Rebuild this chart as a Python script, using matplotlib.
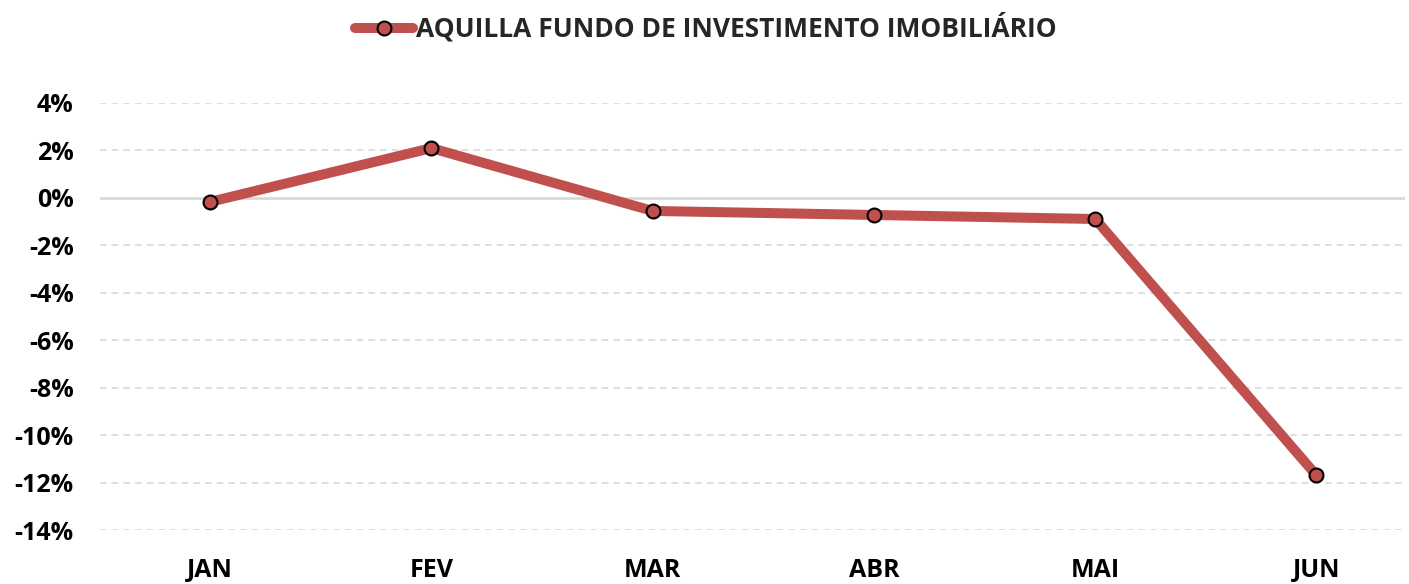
import matplotlib.pyplot as plt
from matplotlib.ticker import FuncFormatter

# monthly return data (%)
months = ['JAN', 'FEV', 'MAR', 'ABR', 'MAI', 'JUN']
returns = [-0.17, 2.1, -0.55, -0.72, -0.89, -11.7]
series_name = 'AQUILLA FUNDO DE INVESTIMENTO IMOBILIÁRIO'
yticks = [4, 2, 0, -2, -4, -6, -8, -10, -12, -14]

plt.rcParams['font.family'] = ['Open Sans', 'DejaVu Sans']

W, H = 1409, 584
fig = plt.figure(figsize=(W / 100, H / 100), dpi=100)
ax = fig.add_axes([100 / W, 1 - 530 / H, (1405 - 100) / W, (530 - 103) / H])

x = list(range(len(months)))
line, = ax.plot(x, returns, color='#C0504D', lw=7.2, solid_capstyle='round',
                marker='o', markersize=10, markerfacecolor='#C0504D',
                markeredgecolor='black', markeredgewidth=1.5, zorder=3,
                label=series_name)

ax.set_xlim(-0.497, 5.40)
ax.set_ylim(-14, 4)
ax.set_yticks(yticks)
ax.yaxis.set_major_formatter(FuncFormatter(lambda v, p: f'{v:.0f}%'))
ax.set_xticks(x)
ax.set_xticklabels(months)

for t in yticks:
    if t == 0:
        ax.axhline(0, color='#D9D9D9', lw=2, zorder=1)
    else:
        ax.axhline(t, color='#D9D9D9', lw=1.2, ls=(0, (4, 3)), zorder=1)

for s in ax.spines.values():
    s.set_visible(False)
ax.tick_params(length=0)
ax.tick_params(axis='y', pad=19, labelsize=18)
ax.tick_params(axis='x', pad=20, labelsize=18)
for lab in ax.get_xticklabels() + ax.get_yticklabels():
    lab.set_fontweight('bold')
    lab.set_color('black')

leg = fig.legend(handles=[line], loc='center', bbox_to_anchor=(706 / W, 1 - 28 / H),
                 frameon=False, handlelength=2.2, handletextpad=0.1,
                 prop={'weight': 'bold', 'size': 19})
for t in leg.get_texts():
    t.set_color('#262626')

fig.savefig('out.png', dpi=100)
